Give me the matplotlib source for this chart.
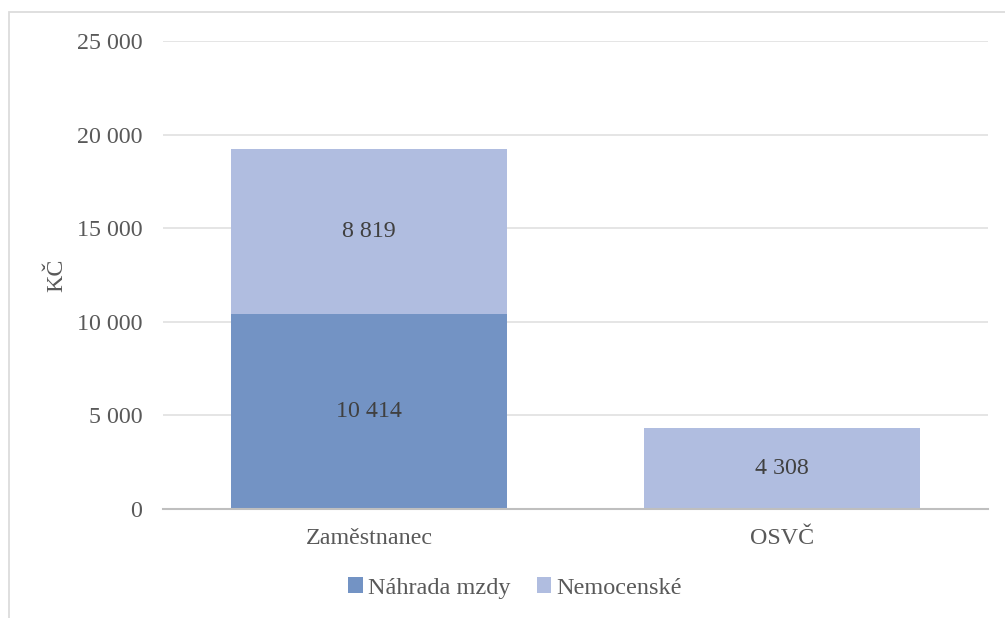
import matplotlib
matplotlib.use("Agg")
import matplotlib.pyplot as plt
from matplotlib.patches import Rectangle
from matplotlib.ticker import FuncFormatter

categories = ["Zaměstnanec", "OSVČ"]
nahrada = [10414, 0]
nemocenske = [8819, 4308]
series_names = ["Náhrada mzdy", "Nemocenské"]
yticks = [0, 5000, 10000, 15000, 20000, 25000]

c_dark = "#7393C4"
c_light = "#B0BDE0"

plt.rcParams['font.family'] = ['Liberation Serif', 'DejaVu Serif']

fig = plt.figure(figsize=(10.05, 6.18), dpi=100)
ax = fig.add_axes([163/1005, 1-509/618, (988-163)/1005, (509-41)/618])

# outer frame (cropped at right and bottom)
fig.patches.append(Rectangle((8.5/1005, -0.1), 1.2, 1-12.5/618+0.1, transform=fig.transFigure,
                             fill=False, edgecolor="#DCDCDC", linewidth=1.3, zorder=0))

x = range(len(categories))
w = 0.67
b1 = ax.bar(x, nahrada, width=w, color=c_dark, label=series_names[0], zorder=2)
b2 = ax.bar(x, nemocenske, width=w, bottom=nahrada, color=c_light, label=series_names[1], zorder=2)

def fmt(v):
    return f"{int(round(v)):,}".replace(",", " ")

for i in x:
    if nahrada[i] > 0:
        ax.text(i, nahrada[i] / 2, fmt(nahrada[i]), ha="center", va="center",
                fontsize=17.3, color="#404040", zorder=4)
    if nemocenske[i] > 0:
        ax.text(i, nahrada[i] + nemocenske[i] / 2, fmt(nemocenske[i]), ha="center", va="center",
                fontsize=17.3, color="#404040", zorder=4)

ax.set_xlim(-0.5, 1.5)
ax.set_ylim(0, 25000)
ax.set_yticks(yticks)
ax.yaxis.set_major_formatter(FuncFormatter(lambda v, p: fmt(v)))
ax.grid(axis="y", color="#E3E3E3", linewidth=1.3, zorder=1)
ax.set_axisbelow(True)
for s in ["top", "right", "left"]:
    ax.spines[s].set_visible(False)
ax.spines["bottom"].set_color("#BFBFBF")
ax.spines["bottom"].set_linewidth(1.5)
ax.spines["bottom"].set_zorder(5)
ax.set_xticks(list(x))
ax.set_xticklabels(categories)
ax.tick_params(axis="both", length=0, labelsize=17.3, labelcolor="#595959")
ax.tick_params(axis="y", pad=15)
ax.tick_params(axis="x", pad=14)
ax.set_ylabel("KČ", fontsize=17.3, color="#595959", labelpad=7)

leg = fig.legend(handles=[b1, b2], labels=series_names, loc="center",
                 bbox_to_anchor=(515/1005, 1-588/618), ncol=2, frameon=False,
                 fontsize=17.5, handlelength=0.6, handleheight=0.6, handletextpad=0.2,
                 columnspacing=1.1, labelcolor="#595959")

fig.savefig("out.png", dpi=100)
